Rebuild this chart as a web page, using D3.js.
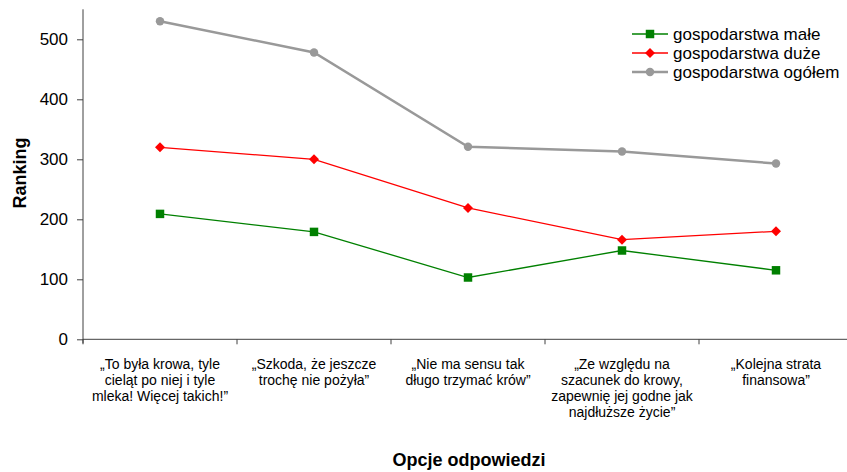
<!DOCTYPE html>
<html><head><meta charset="utf-8">
<script src="https://cdn.jsdelivr.net/npm/d3@7"></script>
<style>body{margin:0;background:#fff}svg{display:block}text{font-family:"Liberation Sans",Arial,sans-serif;fill:#000}</style>
</head><body><svg id="c" width="847" height="472"></svg>
<script>
const categories = [
  ["„To była krowa, tyle","cieląt po niej i tyle","mleka! Więcej takich!”"],
  ["„Szkoda, że jeszcze","trochę nie pożyła”"],
  ["„Nie ma sensu tak","długo trzymać krów”"],
  ["„Ze względu na","szacunek do krowy,","zapewnię jej godne jak","najdłuższe życie”"],
  ["„Kolejna strata","finansowa”"]
];
const seriesNames = ["gospodarstwa małe","gospodarstwa duże","gospodarstwa ogółem"];
const small = [209, 179, 103, 148, 115];
const large = [320, 300, 219, 166, 180];
const total = [530, 478, 321, 313, 293];
const yTicks = [0,100,200,300,400,500];
const yTitle = "Ranking";
const xTitle = "Opcje odpowiedzi";

const colors = ["#008000","#ff0000","#999999"];
const widths = [1.3,1.3,2.5];
const svg = d3.select("#c");
const L = 83, R = 853, T = 9.3, B = 339.3;
const idx = categories.map((d,i)=>i);
const x = d3.scaleBand().domain(idx).range([L,R]);
const y = d3.scaleLinear().domain([0,550]).range([B,T]);

// y axis
const ya = svg.append("g").attr("transform",`translate(${L},0)`)
  .call(d3.axisLeft(y).tickValues(yTicks).tickSize(6).tickPadding(9).tickFormat(d3.format("d")));
ya.select(".domain").attr("stroke","#404040").attr("d",`M0,${y(550)}V${B+4}`);
ya.selectAll(".tick line").attr("stroke","#404040");
ya.selectAll("text").attr("font-size",17).attr("font-family","Liberation Sans, Arial, sans-serif").attr("fill","#000");

// x axis
const xa = svg.append("g").attr("transform",`translate(0,${B})`);
xa.append("line").attr("x1",L).attr("x2",R).attr("y1",0).attr("y2",0).attr("stroke","#404040");
xa.selectAll("line.t").data(d3.range(categories.length+1)).enter().append("line")
  .attr("x1",d=>L+d*x.step()).attr("x2",d=>L+d*x.step()).attr("y1",0).attr("y2",5).attr("stroke","#404040");
const lbl = xa.selectAll("text.c").data(categories).enter().append("text")
  .attr("text-anchor","middle").attr("font-size",14)
  .attr("transform",(d,i)=>`translate(${x(i)+x.bandwidth()/2},30)`);
lbl.selectAll("tspan").data(d=>d).enter().append("tspan").attr("x",0).attr("y",(d,i)=>i*16).text(d=>d);

// titles
svg.append("text").attr("text-anchor","middle").attr("font-weight","bold").attr("font-size",18)
  .attr("transform","translate(26,173) rotate(-90)").text(yTitle);
svg.append("text").attr("text-anchor","middle").attr("font-weight","bold").attr("font-size",18)
  .attr("x",469).attr("y",466).text(xTitle);

// series
const all = [small, large, total];
const cx = i => x(i)+x.bandwidth()/2;
const line = d3.line().x((d,i)=>cx(i)).y(d=>y(d));
const symbols = [d3.symbolSquare, d3.symbolSquare, d3.symbolCircle];
const sizes = [72, 50, 56];
const rot = [0, 45, 0];
[2,1,0].forEach(s=>{
  svg.append("path").datum(all[s]).attr("d",line).attr("fill","none")
    .attr("stroke",colors[s]).attr("stroke-width",widths[s]);
  svg.selectAll(null).data(all[s]).enter().append("path")
    .attr("d",d3.symbol().type(symbols[s]).size(sizes[s]))
    .attr("transform",(d,i)=>`translate(${cx(i)},${y(d)}) rotate(${rot[s]})`).attr("fill",colors[s]);
});

// legend
const lg = svg.append("g");
seriesNames.forEach((n,s)=>{
  const yy = 34 + s*19;
  lg.append("line").attr("x1",632).attr("x2",668).attr("y1",yy).attr("y2",yy)
    .attr("stroke",colors[s]).attr("stroke-width",widths[s]);
  lg.append("path").attr("d",d3.symbol().type(symbols[s]).size(sizes[s]))
    .attr("transform",`translate(650,${yy}) rotate(${rot[s]})`).attr("fill",colors[s]);
  lg.append("text").attr("x",673).attr("y",yy).attr("dy","0.35em").attr("font-size",17).text(n);
});
</script></body></html>
